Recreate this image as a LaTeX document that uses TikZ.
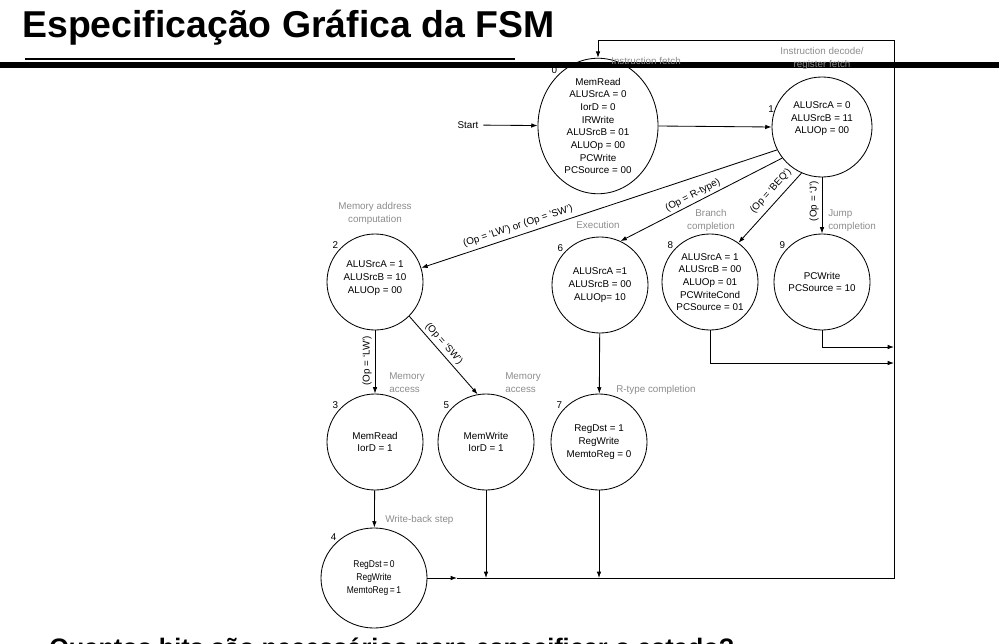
\documentclass[tikz,border=0pt]{standalone}
\usepackage{fontspec}
\setmainfont{Liberation Sans}
\newfontfamily\narrowfont[FakeStretch=0.86]{Liberation Sans}
\usetikzlibrary{arrows.meta, positioning, shapes.geometric}

\begin{document}
\begin{tikzpicture}[
    x=0.025cm, y=-0.025cm,
    state/.style={circle, draw=black, line width=0.6pt, minimum size=2.4cm, inner sep=0pt, align=center, font=\fontsize{7}{9}\selectfont},
    num/.style={font=\fontsize{7}{8}\selectfont, inner sep=0.5pt},
    phase/.style={font=\fontsize{7}{9.2}\selectfont, text=black!45, align=center, inner sep=0pt},
    cond/.style={font=\fontsize{7}{8}\selectfont, sloped, above, inner sep=2pt},
    vcond/.style={font=\fontsize{7}{8}\selectfont, rotate=90, anchor=south, inner sep=2pt},
    arrow/.style={-{Latex[length=4.5pt, width=3.2pt]}, line width=0.6pt},
    wire/.style={line width=0.6pt}
]
\useasboundingbox (0,0) rectangle (999,644);

% ==== Slide title and rules ====
\node[anchor=base west, inner sep=0pt, font=\fontsize{26.6}{32}\bfseries\selectfont] (title) at (22,38) {Especificação Gráfica da FSM};
\draw[line width=0.9pt] (25,59) -- (515,59);
\fill (0,62) rectangle (999,68);

% ==== States ====
\node[state, ellipse, minimum width=3cm, minimum height=2.8cm, label={[num]128:0}] (s0) at (598,126) {MemRead\\ALUSrcA = 0\\IorD = 0\\IRWrite\\ALUSrcB = 01\\ALUOp = 00\\PCWrite\\PCSource = 00};
\node[state, minimum width=2.4cm, minimum height=2.5cm, text depth=13pt, label={[num, label distance=-1pt]164:1}] (s1) at (822,127) {ALUSrcA = 0\\ALUSrcB = 11\\ALUOp = 00};
\node[state, text depth=7pt, label={[num]138:2}] (s2) at (375,282) {ALUSrcA = 1\\ALUSrcB = 10\\ALUOp = 00};
\node[state, label={[num]138:6}] (s6) at (600,285) {ALUSrcA =1\\ALUSrcB = 00\\ALUOp= 10};
\node[state, label={[num]138:8}] (s8) at (710,282) {ALUSrcA = 1\\ALUSrcB = 00\\ALUOp = 01\\PCWriteCond\\PCSource = 01};
\node[state, label={[num]138:9}] (s9) at (822,282) {PCWrite\\PCSource = 10};
\node[state, label={[num]138:3}] (s3) at (375,442) {MemRead\\IorD = 1};
\node[state, label={[num]138:5}] (s5) at (486,442) {MemWrite\\IorD = 1};
\node[state, label={[num]138:7}] (s7) at (599,442) {RegDst = 1\\RegWrite\\MemtoReg = 0};
\node[state, ellipse, minimum width=2.65cm, minimum height=2.5cm, font=\narrowfont\fontsize{7}{9}\selectfont, label={[num]135:4}] (s4) at (374,578) {RegDst\,=\,0\\RegWrite\\MemtoReg\,=\,1};

% ==== Phase names ====
\node[phase] (ph0) at (646,61) {Instruction fetch};
\node[phase] (ph1) at (822,58) {Instruction decode/\\register fetch};
\node[phase] (ph2) at (375,213) {Memory address\\computation};
\node[phase] (ph6) at (598,225) {Execution};
\node[phase] (ph8) at (711,220) {Branch\\completion};
\node[phase, align=left, anchor=west] (ph9) at (828,221) {Jump\\completion};
\node[phase, align=left, anchor=west] (ph3) at (389,383) {Memory\\access};
\node[phase, align=left, anchor=west] (ph5) at (505,383) {Memory\\access};
\node[phase, anchor=west] (ph7) at (616,390) {R-type completion};
\node[phase, anchor=west] (ph4) at (385,520) {Write-back step};

% ==== Transitions ====
\node[font=\fontsize{7}{8}\selectfont] (start) at (468,125) {Start};
\draw[arrow] (start) -- (s0);
\draw[arrow] (s0.east) -- (s1.west);
\draw[arrow] (s1.207) -- node[cond, pos=0.72, inner sep=3pt] {(Op = `LW') or (Op = `SW')} (s2.17);
\draw[arrow] (s1.218) -- node[cond, pos=0.53] {(Op = R-type)} (s6.65);
\draw[arrow] (s1.246) -- node[cond, pos=0.36, inner sep=4pt] {(Op = `BEQ')} (s8.54);
\draw[arrow] (s1) -- node[vcond, pos=0.42] {(Op = `J')} (s9);
\draw[arrow] (s2) -- node[vcond, pos=0.48] {(Op = `LW')} (s3);
\draw[arrow] (s2.-45) -- node[cond, pos=0.42] {(Op = `SW')} (s5.100);
\draw[arrow] (s6) -- (s7);
\draw[arrow] (s3) -- (s4);

% ==== Return to state 0 ====
\coordinate (bus) at (894,578);
\coordinate (boxtr) at (894,40);
\coordinate (boxtl) at (598,40);
\coordinate (join4) at (457,578);
\coordinate (in8) at (894,363);
\coordinate (in9) at (894,347);
\draw[arrow] (s4.east) -- (join4);
\draw[wire] (join4) -- (bus) -- (boxtr) -- (boxtl);
\draw[arrow] (boxtl) -- (s0.north);
\draw[arrow] (s5) -- (s5 |- bus);
\draw[arrow] (s7) -- (s7 |- bus);
\draw[arrow] (s8.south) |- (in8);
\draw[arrow] (s9.south) |- (in9);

% ==== Question (cut at the slide edge) ====
\node[anchor=base west, inner sep=0pt, font=\fontsize{18}{22}\bfseries\selectfont] (question) at (49,656) {Quantos bits são necessários para especificar o estado?};

\end{tikzpicture}
\end{document}
